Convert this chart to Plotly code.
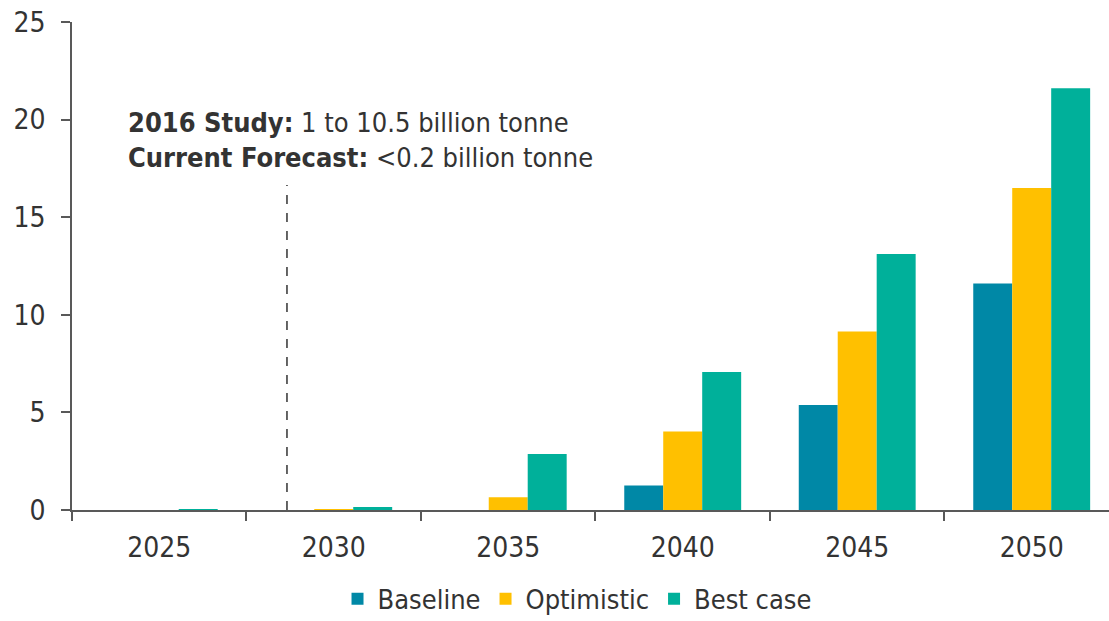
import plotly.graph_objects as go

years = ["2025", "2030", "2035", "2040", "2045", "2050"]
baseline = [0.0, 0.0, 0.0, 1.25, 5.38, 11.6]
optimistic = [0.0, 0.05, 0.65, 4.02, 9.15, 16.5]
best_case = [0.05, 0.15, 2.87, 7.07, 13.12, 21.6]
y_ticks = [0, 5, 10, 15, 20, 25]

FONT = "DejaVu Sans Condensed"
TXT = "#333333"
AX = "#595959"
FS = 28

fig = go.Figure()
fig.add_trace(go.Bar(name="Baseline", x=years, y=baseline, marker=dict(color="#0088A6", line=dict(width=0))))
fig.add_trace(go.Bar(name="Optimistic", x=years, y=optimistic, marker=dict(color="#FFC000", line=dict(width=0))))
fig.add_trace(go.Bar(name="Best case", x=years, y=best_case, marker=dict(color="#00B09A", line=dict(width=0))))

fig.add_shape(type="line", xref="x", yref="y", x0=0.732, x1=0.732, y0=0, y1=16.65,
              line=dict(color=TXT, width=1.5, dash="dash"))

fig.add_annotation(xref="paper", yref="y", x=0.052, y=18.95, xanchor="left", yanchor="middle",
                   align="left", showarrow=False,
                   text="<b>2016 Study:</b> 1 to 10.5 billion tonne<br><b>Current Forecast:</b> <0.2 billion tonne",
                   font=dict(family=FONT, size=27, color=TXT))

fig.update_layout(
    width=1109, height=621,
    margin=dict(l=72, r=0, t=22, b=111, autoexpand=False),
    paper_bgcolor="white", plot_bgcolor="white",
    barmode="group", bargap=0.33, bargroupgap=0,
    font=dict(family=FONT, size=FS, color=TXT),
    showlegend=True,
    legend=dict(orientation="h", x=0.487, xanchor="center", y=-0.183, yanchor="middle",
                font=dict(family=FONT, size=27, color=TXT), itemsizing="constant"),
    xaxis=dict(type="category", range=[-0.5, 5.443], showline=True, linecolor=AX, linewidth=1.5,
               ticks="outside", tickson="boundaries", ticklen=9, tickcolor=AX, tickwidth=1.5,
               ticklabelstandoff=12,
               showgrid=False, zeroline=False, tickfont=dict(family=FONT, size=FS, color=TXT)),
    yaxis=dict(range=[0, 25], tickvals=y_ticks, showline=True, linecolor=AX, linewidth=1.5,
               ticks="outside", ticklen=9, tickcolor=AX, tickwidth=1.5,
               ticklabelstandoff=10,
               showgrid=False, zeroline=False, tickfont=dict(family=FONT, size=FS, color=TXT)),
)

fig.write_html("out.html")
